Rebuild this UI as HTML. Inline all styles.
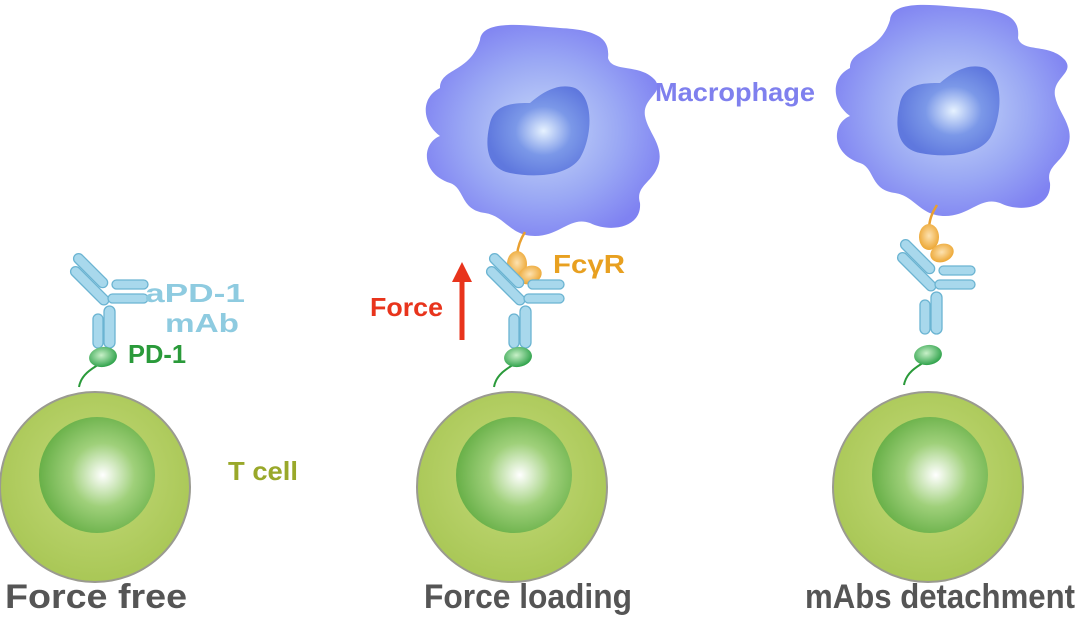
<!DOCTYPE html>
<html><head><meta charset="utf-8"><style>
html,body{margin:0;padding:0;background:#fff;}
svg{display:block;}
text{font-family:"Liberation Sans",sans-serif;font-weight:bold;}
</style></head><body>
<svg width="1080" height="620" viewBox="0 0 1080 620" xmlns="http://www.w3.org/2000/svg">
<defs>
<radialGradient id="tc" cx="0.5" cy="0.45" r="0.55">
<stop offset="0" stop-color="#c4da7a"/><stop offset="1" stop-color="#a9c756"/></radialGradient>
<radialGradient id="tn" cx="0.55" cy="0.5" r="0.55">
<stop offset="0" stop-color="#ffffff"/><stop offset="0.5" stop-color="#9fd07a"/><stop offset="1" stop-color="#68b048"/></radialGradient>
<radialGradient id="mg" cx="0.5" cy="0.5" r="0.55">
<stop offset="0" stop-color="#c6d8f8"/><stop offset="0.6" stop-color="#9aa8f4"/><stop offset="1" stop-color="#7f82f2"/></radialGradient>
<radialGradient id="mn" cx="0.55" cy="0.5" r="0.55">
<stop offset="0" stop-color="#e6f2ff"/><stop offset="0.5" stop-color="#7b98e8"/><stop offset="1" stop-color="#5f78de"/></radialGradient>
<radialGradient id="pd" cx="0.45" cy="0.4" r="0.6">
<stop offset="0" stop-color="#c8f0c8"/><stop offset="1" stop-color="#2ea24a"/></radialGradient>
<radialGradient id="fc" cx="0.5" cy="0.45" r="0.6">
<stop offset="0" stop-color="#fde2b0"/><stop offset="1" stop-color="#eba128"/></radialGradient>
<g id="tcell">
<circle cx="0" cy="0" r="95" fill="url(#tc)" stroke="#9a9a90" stroke-width="2"/>
<circle cx="2" cy="-12" r="58" fill="url(#tn)"/>
</g>
<g id="ab" fill="#a8d8ec" stroke="#6bb4d2" stroke-width="1.3">
<rect x="-48" y="-5" width="50" height="10" rx="5" transform="rotate(45)"/>
<rect x="-48" y="-5" width="44" height="10" rx="5" transform="translate(3,-13) rotate(45)"/>
<rect x="6" y="-22" width="36" height="9" rx="4.5"/>
<rect x="2" y="-8" width="40" height="9" rx="4.5"/>
<rect x="-13" y="12" width="10" height="34" rx="5"/>
<rect x="-2" y="4" width="11" height="42" rx="5.5"/>
</g>
<g id="pd1">
<path d="M-2,6 C-12,12 -22,18 -24,30" fill="none" stroke="#2a9a3a" stroke-width="2"/>
<ellipse cx="0" cy="0" rx="14" ry="10" fill="url(#pd)" transform="rotate(-8)"/>
</g>
<g id="mac">
<path d="M-60,-88 C-58,-110 -10,-102 20,-100 C60,-98 70,-88 68,-70 C72,-55 100,-65 115,-48 C125,-35 102,-30 105,-12 C108,5 125,18 118,38 C112,55 95,58 100,75 C102,100 70,105 50,95 C30,88 20,108 -5,108 C-30,108 -35,88 -55,85 C-80,82 -75,60 -90,55 C-120,45 -118,15 -100,8 C-118,-5 -120,-30 -100,-40 C-100,-60 -70,-55 -60,-88 Z" fill="url(#mg)"/>
<path d="M-50,-5 C-45,-25 -25,-25 -10,-25 C5,-38 20,-45 35,-40 C55,-30 52,10 40,30 C28,48 -5,50 -30,45 C-55,40 -55,15 -50,-5 Z" fill="url(#mn)"/>
</g>
</defs>

<use href="#tcell" x="95" y="487"/>
<use href="#tcell" x="512" y="487"/>
<use href="#tcell" x="928" y="487"/>

<use href="#mac" x="540" y="128"/>
<use href="#mac" x="950" y="108"/>

<g>
<path d="M525,232 C520,240 517,248 517,258" stroke="#e9a030" stroke-width="2.5" fill="none"/>
<ellipse cx="517" cy="264" rx="10" ry="13" fill="url(#fc)"/>
<ellipse cx="530" cy="275" rx="12" ry="9" fill="url(#fc)" transform="rotate(-20 530 275)"/>
<path d="M937,205 C932,213 929,220 929,230" stroke="#e9a030" stroke-width="2.5" fill="none"/>
<ellipse cx="929" cy="237" rx="10" ry="13" fill="url(#fc)"/>
<ellipse cx="942" cy="253" rx="12" ry="9" fill="url(#fc)" transform="rotate(-20 942 253)"/>
</g>

<use href="#ab" x="106" y="302"/>
<use href="#ab" x="522" y="302"/>
<use href="#ab" x="933" y="288"/>

<use href="#pd1" x="103" y="357"/>
<use href="#pd1" x="518" y="357"/>
<use href="#pd1" x="928" y="355"/>

<line x1="462" y1="340" x2="462" y2="278" stroke="#e8341c" stroke-width="5"/>
<polygon points="462,262 452,282 472,282" fill="#e8341c"/>

<text x="145" y="302" font-size="26" fill="#8ecbe0" textLength="100" lengthAdjust="spacingAndGlyphs">aPD-1</text>
<text x="165" y="332" font-size="26" fill="#8ecbe0" textLength="74" lengthAdjust="spacingAndGlyphs">mAb</text>
<text x="128" y="363" font-size="26" fill="#2a9a3a" textLength="58" lengthAdjust="spacingAndGlyphs">PD-1</text>
<text x="228" y="480" font-size="26" fill="#99a82a" textLength="70" lengthAdjust="spacingAndGlyphs">T cell</text>
<text x="370" y="316" font-size="26" fill="#e8341c" textLength="73" lengthAdjust="spacingAndGlyphs">Force</text>
<text x="553" y="273" font-size="26" fill="#e8a020" textLength="72" lengthAdjust="spacingAndGlyphs">FcγR</text>
<text x="655" y="101" font-size="26" fill="#7f80ee" textLength="160" lengthAdjust="spacingAndGlyphs">Macrophage</text>

<text x="5" y="608" font-size="34" fill="#555" textLength="182" lengthAdjust="spacingAndGlyphs">Force free</text>
<text x="424" y="608" font-size="34" fill="#555" textLength="208" lengthAdjust="spacingAndGlyphs">Force loading</text>
<text x="805" y="608" font-size="34" fill="#555" textLength="270" lengthAdjust="spacingAndGlyphs">mAbs detachment</text>
</svg>
</body></html>
